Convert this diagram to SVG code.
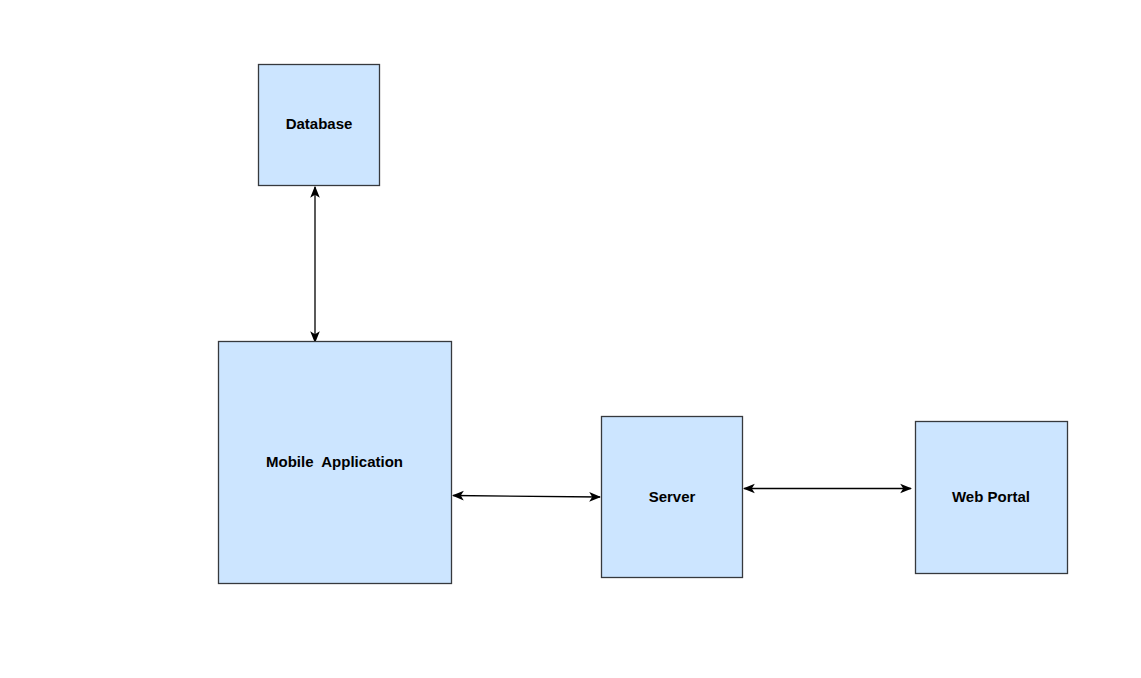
<svg xmlns="http://www.w3.org/2000/svg" width="1141" height="678" viewBox="0 0 1141 678">
  <style>
    .box { fill: #cce5ff; stroke: #36393d; stroke-width: 1.3; }
    .label { font-family: "Liberation Sans", Arial, sans-serif; font-size: 15px; font-weight: bold; fill: #000; text-anchor: middle; dominant-baseline: central; }
    .link { fill: none; stroke: #000; stroke-width: 1.3; marker-start: url(#arrow); marker-end: url(#arrow); }
  </style>
  <defs>
    <marker id="arrow" viewBox="0 0 10 10" refX="9" refY="5" markerWidth="12" markerHeight="12" markerUnits="userSpaceOnUse" orient="auto-start-reverse">
      <path d="M0,1 L10,5 L0,9 L2.5,5 Z" fill="#000"/>
    </marker>
  </defs>
  <rect width="1141" height="678" fill="#fff"/>

  <g id="connectors">
    <line class="link" x1="315" y1="187" x2="315" y2="342"/>
    <line class="link" x1="453" y1="495.5" x2="600" y2="497"/>
    <line class="link" x1="744" y1="488.5" x2="911" y2="488.5"/>
  </g>

  <g id="database">
    <rect class="box" x="258.5" y="64.5" width="121" height="121"/>
    <text class="label" x="319" y="123">Database</text>
  </g>

  <g id="mobile-application">
    <rect class="box" x="218.5" y="341.5" width="233" height="242"/>
    <text class="label" x="334.5" y="461" xml:space="preserve">Mobile  Application</text>
  </g>

  <g id="server">
    <rect class="box" x="601.5" y="416.5" width="141" height="161"/>
    <text class="label" x="672" y="496">Server</text>
  </g>

  <g id="web-portal">
    <rect class="box" x="915.5" y="421.5" width="152" height="152"/>
    <text class="label" x="991" y="496">Web Portal</text>
  </g>
</svg>
